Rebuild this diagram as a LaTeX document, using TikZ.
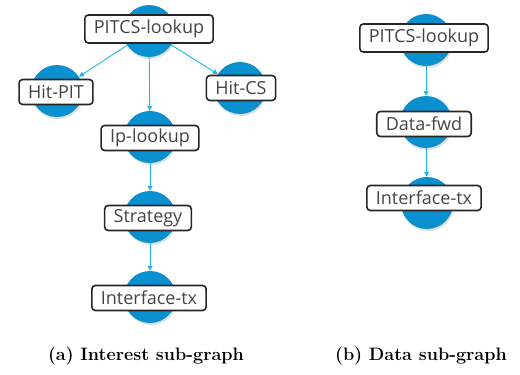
\documentclass[tikz,border=0pt]{standalone}
\usepackage{fontspec}
\newfontfamily\nodefont{Open Sans}
\usetikzlibrary{shadows,arrows.meta}
\definecolor{circblue}{HTML}{0A8FCF}
\definecolor{arrcyan}{HTML}{1CB8EC}
\definecolor{boxline}{HTML}{262626}
\definecolor{txtgray}{HTML}{444444}
\tikzset{
  circ/.style={circle, fill=circblue, minimum size=52pt, inner sep=0pt,
    drop shadow={opacity=0.25, shadow xshift=1pt, shadow yshift=-2pt}},
  lbl/.style={draw=boxline, line width=1.6pt, rounded corners=3.5pt, fill=white,
    font=\nodefont\fontsize{18}{19}\selectfont, text=txtgray, inner xsep=9pt,
    minimum height=25pt, inner ysep=0pt},
  arr/.style={draw=arrcyan, line width=0.9pt, -{Triangle[length=5pt,width=5pt]}},
  captext/.style={font=\bfseries\fontsize{18}{20}\selectfont, text=black}
}
\begin{document}
\begin{tikzpicture}[x=1pt,y=-1pt]
\useasboundingbox[fill=white] (0,0) rectangle (520,375);
% circles
\node[circ] (c1) at (149,31) {};
\node[circ] (c2) at (57,91) {};
\node[circ] (c3) at (240,88) {};
\node[circ] (c4) at (150,137) {};
\node[circ] (c5) at (150,217) {};
\node[circ] (c6) at (150,297) {};
\node[circ] (d1) at (426,40) {};
\node[circ] (d2) at (426,122) {};
\node[circ] (d3) at (427,203) {};
% arrows
\draw[arr] (c1) -- (c2);
\draw[arr] (c1) -- (c3);
\draw[arr] (c1) -- (c4);
\draw[arr] (c4) -- (c5);
\draw[arr] (c5) -- (c6);
\draw[arr] (d1) -- (d2);
\draw[arr] (d2) -- (d3);
% labels
\node[lbl, minimum height=28pt] (b1) at (149,29) {PITCS-lookup};
\node[lbl] (b2) at (56,92) {Hit-PIT};
\node[lbl] (b3) at (241,88) {Hit-CS};
\node[lbl] (b4) at (150,138) {Ip-lookup};
\node[lbl] (b5) at (148,218) {Strategy};
\node[lbl] (b6) at (149,298) {Interface-tx};
\node[lbl, minimum height=28pt] (e1) at (424,38) {PITCS-lookup};
\node[lbl] (e2) at (424,124) {Data-fwd};
\node[lbl] (e3) at (424,198) {Interface-tx};
% captions
\node[captext] (ca) at (146,356) {(a) Interest sub-graph};
\node[captext] (cb) at (421,356) {(b) Data sub-graph};
\end{tikzpicture}
\end{document}
